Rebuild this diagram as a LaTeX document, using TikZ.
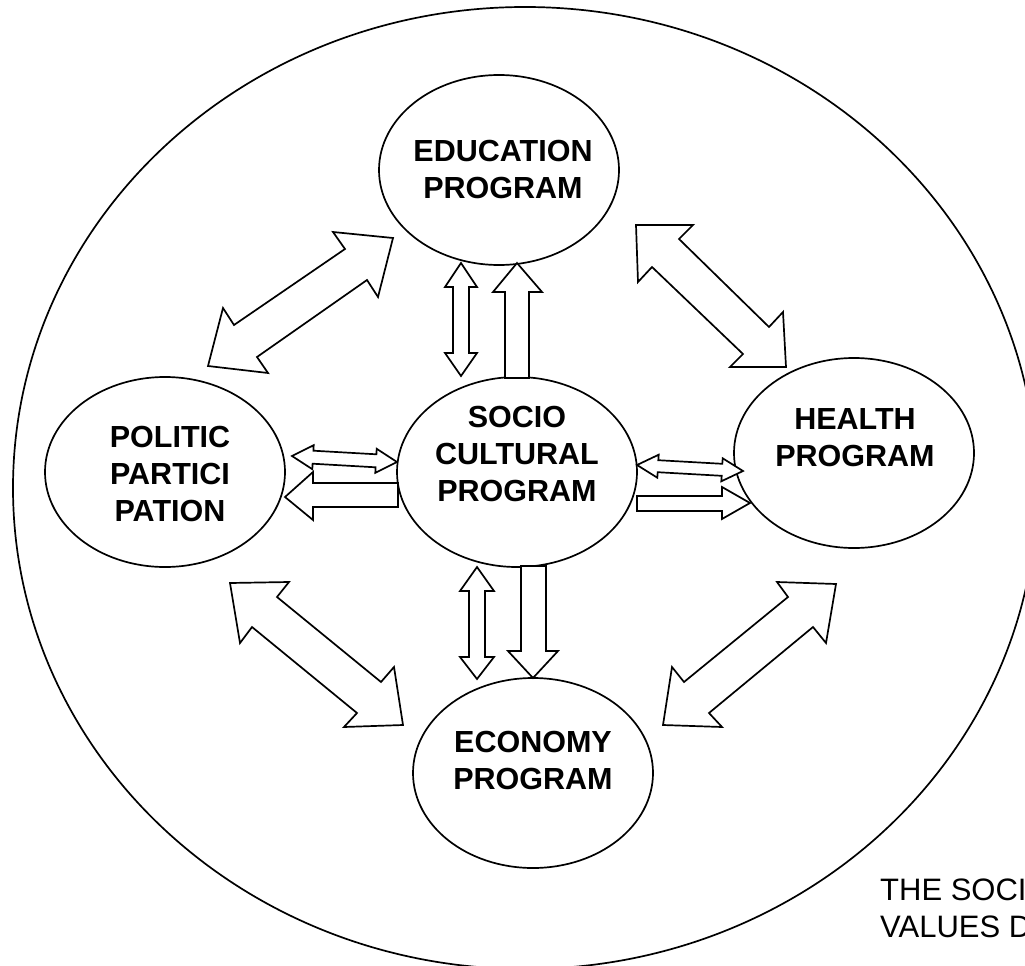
\documentclass[tikz,border=0pt]{standalone}
\usepackage{fontspec}
\setmainfont{Liberation Sans}
\usetikzlibrary{shapes.geometric}
\begin{document}
\begin{tikzpicture}[x=1pt,y=-1pt,
  prog/.style={ellipse, draw, line width=1.7pt, fill=white, inner sep=0pt,
    minimum width=240pt, minimum height=190pt},
  progtext/.style={font=\bfseries\fontsize{30.5}{37}\selectfont, align=center, inner sep=0pt},
  notetext/.style={font=\fontsize{31}{37}\selectfont, inner sep=0pt, anchor=base west},
  blockarrow/.style={draw, line width=1.7pt, fill=white, line join=miter}]
\useasboundingbox (0,0) rectangle (1025,966);

% outer boundary
\node[ellipse, draw, line width=1.7pt, inner sep=0pt,
  minimum width=1024pt, minimum height=962pt] (world) at (525,488) {};

% programme ellipses
\node[prog] (edu)    at (499,170) {};
\node[prog] (socio)  at (517,472) {};
\node[prog] (polit)  at (165,472) {};
\node[prog] (health) at (854,453) {};
\node[prog] (econ)   at (533,773) {};

\node[progtext] (edutext)    at (503,169) {EDUCATION\\PROGRAM};
\node[progtext] (sociotext)  at (517,454) {SOCIO\\CULTURAL\\PROGRAM};
\node[progtext] (polittext)  at (170,474) {POLITIC\\PARTICI\\PATION};
\node[progtext] (healthtext) at (855,438) {HEALTH\\PROGRAM};
\node[progtext] (econtext)   at (533,760) {ECONOMY\\PROGRAM};

% socio cultural <-> politic participation
\draw[blockarrow] (292,456) -- (313.7,445.2) -- (313.4,450.7) -- (376.4,454.3)
  -- (376.7,448.8) -- (397,462) -- (375.3,472.8) -- (375.6,467.3)
  -- (312.6,463.7) -- (312.3,469.2) -- cycle;
\draw[blockarrow] (285,497) -- (313,472) -- (313,483) -- (398,483)
  -- (398,507) -- (313,507) -- (313,520) -- cycle;

% socio cultural <-> health
\draw[blockarrow] (637,465) -- (658.7,454.7) -- (658.3,460.2) -- (722.3,463.8)
  -- (722.7,458.3) -- (743,471) -- (721.3,481.3) -- (721.7,475.8)
  -- (657.7,472.2) -- (657.3,477.7) -- cycle;
\draw[blockarrow] (637,496) -- (722,496) -- (722,487) -- (750,503)
  -- (722,519) -- (722,511) -- (637,511) -- cycle;

% socio cultural <-> education
\draw[blockarrow] (461,263) -- (477,287) -- (469,287) -- (469,353) -- (477,353)
  -- (461,376) -- (445,353) -- (453,353) -- (453,287) -- (445,287) -- cycle;
\draw[blockarrow] (517,263) -- (542,292) -- (529,292) -- (529,378)
  -- (505,378) -- (505,292) -- (493,292) -- cycle;

% socio cultural <-> economy
\draw[blockarrow] (477,567) -- (494,591) -- (485,591) -- (485,657) -- (494,657)
  -- (477,679) -- (460,657) -- (469,657) -- (469,591) -- (460,591) -- cycle;
\draw[blockarrow] (521,566) -- (546,566) -- (546,651) -- (558,651)
  -- (533,678) -- (508,651) -- (521,651) -- cycle;

% diagonal links around the ring
\draw[blockarrow] (393,238) -- (333,232) -- (345,249) -- (234,325) -- (223,308)
  -- (208,366) -- (268,373) -- (257,357) -- (367,280) -- (378,297) -- cycle;
\draw[blockarrow] (636,225) -- (693,225) -- (679,239) -- (769,327) -- (783,312)
  -- (786,367) -- (730,367) -- (743,354) -- (652,267) -- (638,282) -- cycle;
\draw[blockarrow] (230,583) -- (289,582) -- (277,597) -- (381,682) -- (394,667)
  -- (403,725) -- (344,727) -- (357,713) -- (252,627) -- (240,643) -- cycle;
\draw[blockarrow] (836,584) -- (777,582) -- (788,597) -- (684,682) -- (672,667)
  -- (663,725) -- (722,727) -- (709,713) -- (813,627) -- (826,643) -- cycle;

% note in the lower right corner
\node[notetext] (note1) at (880,900) {THE SOCI};
\node[notetext] (note2) at (880,937) {VALUES D};
\end{tikzpicture}
\end{document}
